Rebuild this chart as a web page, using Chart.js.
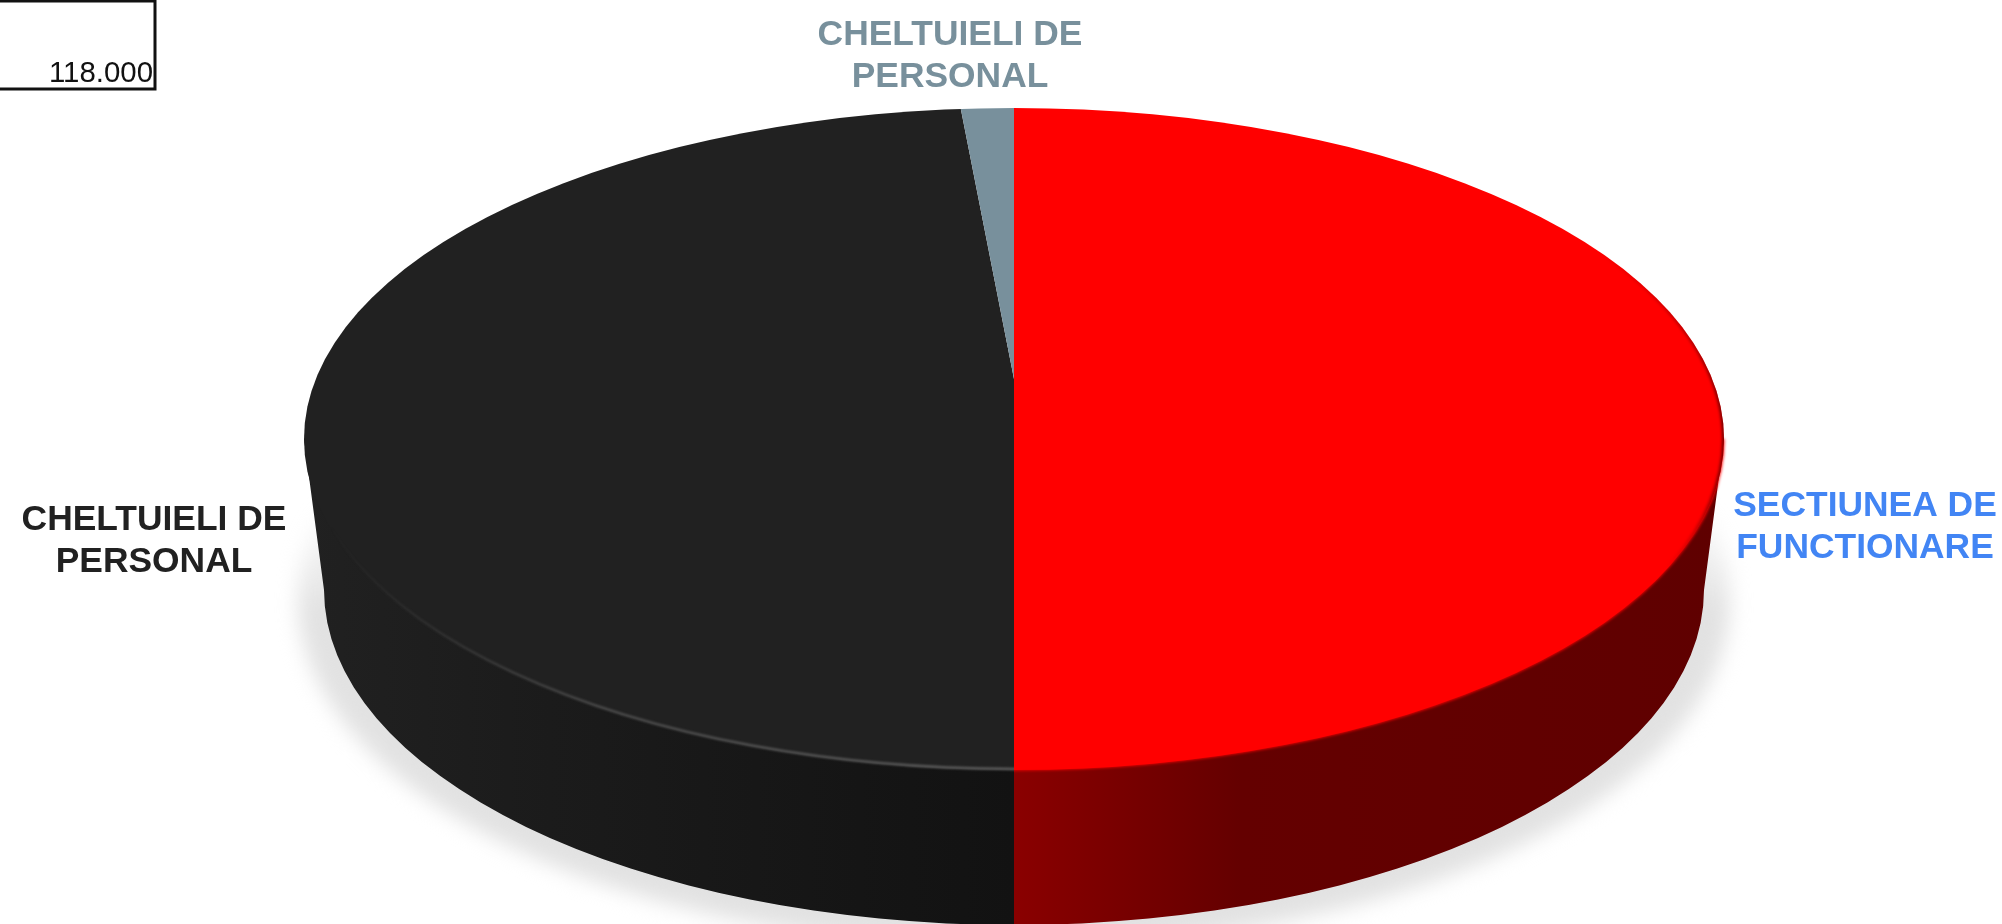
<!DOCTYPE html>
<html>
<head>
<meta charset="utf-8">
<style>
    html, body { margin: 0; padding: 0; background: #fff; }
    canvas { display: block; }
</style>
<script src="https://cdn.jsdelivr.net/npm/chart.js@4"></script>
</head>
<body>
<canvas id="pieChart" width="2002" height="924"></canvas>
<script>
// Data (share of the total, %)
const categories = ['SECTIUNEA DE FUNCTIONARE', 'CHELTUIELI DE PERSONAL', 'CHELTUIELI DE PERSONAL'];
const shares = [50, 48.5, 1.5];
const sliceColors = ['#ff0000', '#212121', '#78909c'];
const labelLines = [['SECTIUNEA DE', 'FUNCTIONARE'], ['CHELTUIELI DE', 'PERSONAL'], ['CHELTUIELI DE', 'PERSONAL']];
const cornerValue = '118.000';

// Top face and foot of the disc, in page pixels
const top3d = { x: 1014, y: 439, rx: 710, ry: 331 };
const foot3d = { x: 1014, y: 590, rx: 690, ry: 335 };
// The slices meet above the middle of the ellipse because of the perspective
const apex = { x: 1014, y: 379 };
const labelSpots = [
    { x: 1865, y: 516 },
    { x: 154, y: 530 },
    { x: 950, y: 45 }
];

function ellipsePath(ctx, e) {
    ctx.beginPath();
    ctx.ellipse(e.x, e.y, e.rx, e.ry, 0, 0, Math.PI * 2);
}

function wallPath(ctx) {
    ctx.beginPath();
    ctx.moveTo(top3d.x + top3d.rx, top3d.y);
    ctx.lineTo(foot3d.x + foot3d.rx, foot3d.y);
    ctx.ellipse(foot3d.x, foot3d.y, foot3d.rx, foot3d.ry, 0, 0, Math.PI);
    ctx.lineTo(top3d.x - top3d.rx, top3d.y);
    ctx.closePath();
}

function drawShadow(ctx) {
    ctx.save();
    const fade = ctx.createLinearGradient(0, 500, 0, 610);
    fade.addColorStop(0, 'rgba(226,226,226,0)');
    fade.addColorStop(1, 'rgba(226,226,226,1)');
    ctx.filter = 'blur(10px)';
    ctx.fillStyle = fade;
    ctx.beginPath();
    ctx.ellipse(foot3d.x, foot3d.y + 10, foot3d.rx + 26, foot3d.ry + 12, 0, 0, Math.PI * 2);
    ctx.fill();
    ctx.restore();
}

function drawWalls(ctx) {
    const blackWall = ctx.createLinearGradient(300, 0, top3d.x, 0);
    blackWall.addColorStop(0, '#212121');
    blackWall.addColorStop(0.35, '#1b1b1b');
    blackWall.addColorStop(1, '#121212');
    const redWall = ctx.createLinearGradient(top3d.x, 0, 1724, 0);
    redWall.addColorStop(0, '#8a0000');
    redWall.addColorStop(0.32, '#640000');
    redWall.addColorStop(1, '#5f0000');

    ctx.save();
    wallPath(ctx);
    ctx.clip();
    ctx.fillStyle = blackWall;
    ctx.fillRect(0, 0, top3d.x, 924);
    ctx.fillStyle = redWall;
    ctx.fillRect(top3d.x, 0, 1002, 924);
    ctx.restore();
}

function drawRim(ctx) {
    // soft red edge on the front of the right half
    ctx.save();
    ctx.beginPath();
    ctx.rect(top3d.x, 430, 988, 494);
    ctx.clip();
    ctx.filter = 'blur(1.5px)';
    ctx.strokeStyle = '#ff0000';
    ctx.lineWidth = 3;
    ctx.beginPath();
    ctx.ellipse(top3d.x, top3d.y, top3d.rx - 1, top3d.ry - 1, 0, 0, Math.PI);
    ctx.stroke();
    ctx.restore();

    // the red darkens along the edge towards the far right
    const edge = ctx.createLinearGradient(0, 250, 0, 570);
    edge.addColorStop(0, 'rgba(96,0,0,0)');
    edge.addColorStop(0.55, 'rgba(96,0,0,0.95)');
    edge.addColorStop(0.72, 'rgba(96,0,0,0.8)');
    edge.addColorStop(1, 'rgba(96,0,0,0)');
    ctx.save();
    ellipsePath(ctx, top3d);
    ctx.clip();
    ctx.filter = 'blur(1.5px)';
    ctx.strokeStyle = edge;
    ctx.lineWidth = 4;
    ctx.beginPath();
    ctx.ellipse(top3d.x, top3d.y, top3d.rx, top3d.ry, 0, -1.0, 1.0);
    ctx.stroke();
    ctx.restore();

    // thin light line on the black half
    const shine = ctx.createLinearGradient(330, 0, top3d.x, 0);
    shine.addColorStop(0, 'rgba(90,90,90,0)');
    shine.addColorStop(0.4, 'rgba(90,90,90,0.75)');
    shine.addColorStop(1, 'rgba(95,95,95,1)');
    ctx.save();
    ctx.beginPath();
    ctx.rect(0, 430, top3d.x, 494);
    ctx.clip();
    ctx.filter = 'blur(1px)';
    ctx.strokeStyle = shine;
    ctx.lineWidth = 2.5;
    ctx.beginPath();
    ctx.ellipse(top3d.x, top3d.y, top3d.rx - 1, top3d.ry - 1, 0, 0, Math.PI);
    ctx.stroke();
    ctx.restore();
}

function drawTexts(ctx) {
    ctx.save();
    ctx.textAlign = 'center';
    ctx.textBaseline = 'alphabetic';
    ctx.font = 'bold 35.4px "Liberation Sans", Arial, sans-serif';
    const textColors = ['#4285f4', '#212121', '#78909c'];
    labelLines.forEach((lines, i) => {
        ctx.fillStyle = textColors[i];
        lines.forEach((line, n) => {
            ctx.fillText(line, labelSpots[i].x, labelSpots[i].y + n * 41.5);
        });
    });

    // piece of table left in the corner
    ctx.strokeStyle = '#111';
    ctx.lineWidth = 3;
    ctx.beginPath();
    ctx.moveTo(0, 1);
    ctx.lineTo(155, 1);
    ctx.lineTo(155, 89);
    ctx.lineTo(0, 89);
    ctx.stroke();
    ctx.fillStyle = '#111';
    ctx.textAlign = 'right';
    ctx.font = '29.4px "Liberation Sans", Arial, sans-serif';
    ctx.fillText(cornerValue, 153, 82);
    ctx.restore();
}

// Draws the disc under the pie and squashes the pie into the top face
const disc3d = {
    id: 'disc3d',
    beforeDatasetsDraw(chart) {
        const ctx = chart.ctx;
        const arc = chart.getDatasetMeta(0).data[0];
        drawShadow(ctx);
        drawWalls(ctx);
        ctx.save();
        ellipsePath(ctx, top3d);
        ctx.clip();
        ctx.translate(apex.x, apex.y);
        ctx.scale(2, 0.96);
        ctx.translate(-arc.x, -arc.y);
    },
    afterDatasetsDraw(chart) {
        const ctx = chart.ctx;
        ctx.restore();
        drawRim(ctx);
        drawTexts(ctx);
    }
};

new Chart(document.getElementById('pieChart').getContext('2d'), {
    type: 'pie',
    data: {
        labels: categories,
        datasets: [{
            data: shares,
            backgroundColor: sliceColors,
            borderWidth: 0
        }]
    },
    options: {
        responsive: false,
        animation: false,
        events: [],
        plugins: {
            legend: { display: false },
            tooltip: { enabled: false }
        }
    },
    plugins: [disc3d]
});
</script>
</body>
</html>
